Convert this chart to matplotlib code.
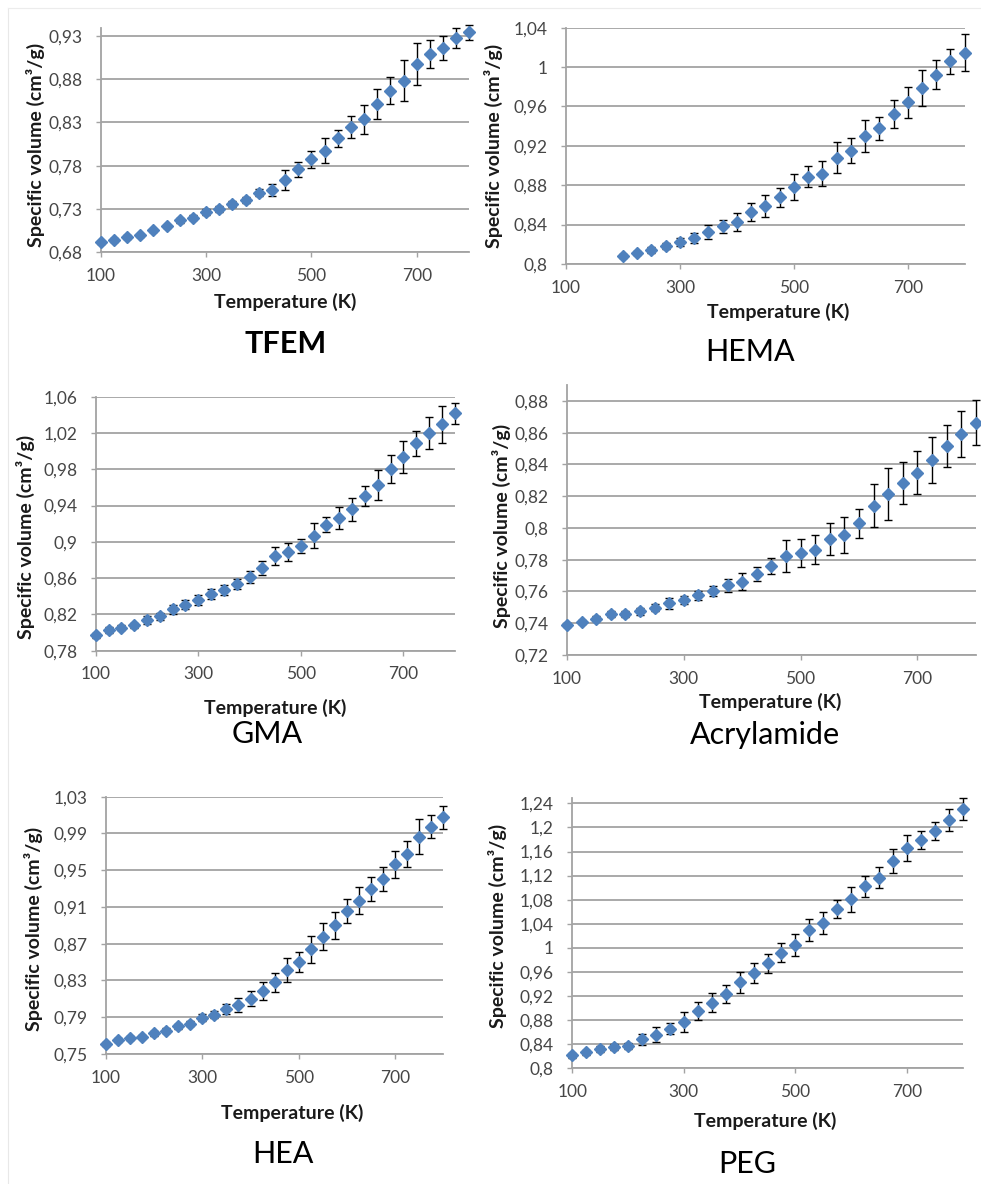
import matplotlib
matplotlib.use("Agg")
import matplotlib.pyplot as plt
from matplotlib.ticker import FuncFormatter, FixedLocator
from matplotlib.lines import Line2D

plt.rcParams['font.family'] = ['Lato', 'DejaVu Sans']

# ---------------- data ----------------
T_full = [100, 125, 150, 175, 200, 225, 250, 275, 300, 325, 350, 375, 400, 425,
          450, 475, 500, 525, 550, 575, 600, 625, 650, 675, 700, 725, 750, 775, 800]
T_hema = [200, 225, 250, 275, 300, 325, 350, 375, 400, 425, 450, 475, 500, 525,
          550, 575, 600, 625, 650, 675, 700, 725, 750, 775, 800]

tfem_v = [0.6915, 0.6942, 0.6977, 0.6996, 0.7054, 0.7100, 0.7169, 0.7200, 0.7265, 0.7300,
          0.7358, 0.7404, 0.7489, 0.7519, 0.7635, 0.7758, 0.7873, 0.7973, 0.8115, 0.8246,
          0.8335, 0.8515, 0.8665, 0.8780, 0.8969, 0.9088, 0.9154, 0.9269, 0.9338]
tfem_e = [0.002, 0.002, 0.002, 0.002, 0.002, 0.002, 0.003, 0.003, 0.003, 0.003, 0.003, 0.003,
          0.004, 0.0073, 0.012, 0.0088, 0.0098, 0.0144, 0.010, 0.0125, 0.0165, 0.0173,
          0.0158, 0.0235, 0.0244, 0.0165, 0.0137, 0.0117, 0.0085]

hema_v = [0.8085, 0.8112, 0.8146, 0.8186, 0.8220, 0.8267, 0.8322, 0.8383, 0.8427, 0.8531,
          0.8589, 0.8677, 0.8782, 0.8887, 0.8917, 0.9080, 0.9151, 0.9300, 0.9378, 0.9523,
          0.9642, 0.9787, 0.9923, 1.0058, 1.0146]
hema_e = [0.002, 0.002, 0.003, 0.003, 0.004, 0.005, 0.007, 0.0065, 0.0095, 0.009, 0.011,
          0.0095, 0.0135, 0.011, 0.0127, 0.016, 0.0127, 0.0164, 0.012, 0.0144, 0.016,
          0.018, 0.015, 0.0125, 0.019]

gma_v = [0.7969, 0.8028, 0.8054, 0.8079, 0.8138, 0.8179, 0.8256, 0.8307, 0.8359, 0.8425,
         0.8469, 0.8535, 0.8612, 0.8711, 0.8844, 0.8891, 0.8954, 0.9068, 0.9189, 0.9266,
         0.9358, 0.9505, 0.9626, 0.9807, 0.9932, 1.0086, 1.0196, 1.0295, 1.0417]
gma_e = [0.003, 0.003, 0.003, 0.003, 0.004, 0.004, 0.005, 0.005, 0.005, 0.005, 0.005, 0.005,
         0.0066, 0.008, 0.0099, 0.0099, 0.008, 0.0138, 0.0083, 0.012, 0.0129, 0.011,
         0.0165, 0.0154, 0.0175, 0.014, 0.0176, 0.0202, 0.0114]

acr_v = [0.7389, 0.7408, 0.7429, 0.7457, 0.7457, 0.7474, 0.7499, 0.7526, 0.7547, 0.7575,
         0.7602, 0.7638, 0.7661, 0.7712, 0.7760, 0.7825, 0.7844, 0.7863, 0.7928, 0.7956,
         0.8029, 0.8139, 0.8213, 0.8284, 0.8349, 0.8427, 0.8516, 0.8591, 0.8663]
acr_e = [0.0015, 0.0015, 0.0015, 0.002, 0.002, 0.002, 0.0025, 0.0034, 0.0025, 0.003, 0.003,
         0.004, 0.0053, 0.0045, 0.0053, 0.010, 0.0087, 0.0093, 0.010, 0.0115, 0.009,
         0.0135, 0.0165, 0.0133, 0.0135, 0.0147, 0.0135, 0.0144, 0.0141]

hea_v = [0.7609, 0.7649, 0.7674, 0.7689, 0.7725, 0.7754, 0.7801, 0.7830, 0.7895, 0.7928,
         0.7990, 0.8033, 0.8102, 0.8186, 0.8280, 0.8414, 0.8505, 0.8639, 0.8777, 0.8900,
         0.9052, 0.9168, 0.9295, 0.9408, 0.9564, 0.9680, 0.9865, 0.9974, 1.0075]
hea_e = [0.002, 0.002, 0.002, 0.002, 0.003, 0.003, 0.003, 0.003, 0.004, 0.004, 0.0058,
         0.0078, 0.0085, 0.0098, 0.0103, 0.0127, 0.0109, 0.0145, 0.015, 0.0145, 0.013,
         0.0145, 0.0134, 0.013, 0.015, 0.0143, 0.0192, 0.0127, 0.0129]

peg_v = [0.8210, 0.8260, 0.8310, 0.8354, 0.8371, 0.8476, 0.8554, 0.8653, 0.8764, 0.8947,
         0.9085, 0.9229, 0.9423, 0.9572, 0.9738, 0.9915, 1.0048, 1.0292, 1.0413, 1.0646,
         1.0806, 1.1022, 1.1166, 1.1437, 1.1653, 1.1792, 1.1941, 1.2129, 1.2301]
peg_e = [0.004, 0.004, 0.005, 0.005, 0.005, 0.0091, 0.0127, 0.0089, 0.0166, 0.0144,
         0.0155, 0.0149, 0.0177, 0.0166, 0.0155, 0.016, 0.0183, 0.0183, 0.0177, 0.0155,
         0.0205, 0.0172, 0.0177, 0.0199, 0.0216, 0.0144, 0.0144, 0.0183, 0.0183]

x_ticks = [100, 300, 500, 700]
tfem_ticks = [0.68, 0.73, 0.78, 0.83, 0.88, 0.93]
hema_ticks = [0.80, 0.84, 0.88, 0.92, 0.96, 1.00, 1.04]
gma_ticks = [0.78, 0.82, 0.86, 0.90, 0.94, 0.98, 1.02, 1.06]
acr_ticks = [0.72, 0.74, 0.76, 0.78, 0.80, 0.82, 0.84, 0.86, 0.88]
hea_ticks = [0.75, 0.79, 0.83, 0.87, 0.91, 0.95, 0.99, 1.03]
peg_ticks = [0.80, 0.84, 0.88, 0.92, 0.96, 1.00, 1.04, 1.08, 1.12, 1.16, 1.20, 1.24]

titles = ["TFEM", "HEMA", "GMA", "Acrylamide", "HEA", "PEG"]
x_label = "Temperature (K)"
y_label = "Specific volume (cm³/g)"

# ---------------- layout (pixels) ----------------
W, H = 981, 1184
fig = plt.figure(figsize=(W / 100, H / 100), dpi=100)
fig.patch.set_facecolor("white")

def px_rect(x0, x1, ytop, ybot):
    return [x0 / W, 1 - ybot / H, (x1 - x0) / W, (ybot - ytop) / H]

GRID = "#a3a3a3"
BLUE = "#4f81bd"
TICKC = "#464646"

def comma_fmt(v, pos):
    s = "{:.2f}".format(v).rstrip("0").rstrip(".")
    return s.replace(".", ",")

panels = [
    # T, values, errors, yticks, ylim, rect, ylabel_pos, xlabel_pos, title_pos, bold title
    (T_full, tfem_v, tfem_e, tfem_ticks, (0.68, 0.9385), (100.7, 469.4, 28.3, 252.3),
     (35, 145), (285, 302), (286, 344), True),
    (T_hema, hema_v, hema_e, hema_ticks, (0.80, 1.04), (566, 964.7, 27.7, 264),
     (493, 146), (778, 312), (750, 352), False),
    (T_full, gma_v, gma_e, gma_ticks, (0.78, 1.06), (95.7, 454.6, 396.7, 650.7),
     (25, 537), (275, 708), (267, 734), False),
    (T_full, acr_v, acr_e, acr_ticks, (0.72, 0.89), (567, 975.7, 385, 655),
     (501, 526), (770, 702), (765, 735), False),
    (T_full, hea_v, hea_e, hea_ticks, (0.75, 1.03), (106, 443.2, 796.7, 1054),
     (33, 929), (292, 1113), (283, 1154), False),
    (T_full, peg_v, peg_e, peg_ticks, (0.80, 1.2485), (572.3, 962.8, 798.3, 1068),
     (497, 926), (765, 1121), (747, 1164), False),
]

for i, (T, v, e, yt, ylim, rect, ylp, xlp, tp, bold) in enumerate(panels):
    ax = fig.add_axes(px_rect(*rect))
    ax.set_xlim(100, 800)
    ax.set_ylim(*ylim)
    ax.errorbar(T, v, yerr=e, fmt="none", ecolor="black", elinewidth=1.0,
                capsize=3.2, capthick=1.0, zorder=3, clip_on=False)
    ax.plot(T, v, linestyle="none", marker="D", markersize=6.5, color=BLUE,
            markeredgecolor=BLUE, zorder=4, clip_on=False)
    ax.xaxis.set_major_locator(FixedLocator(x_ticks))
    ax.yaxis.set_major_locator(FixedLocator(yt))
    ax.yaxis.set_major_formatter(FuncFormatter(comma_fmt))
    ax.grid(axis="y", color=GRID, linewidth=1.3)
    ax.set_axisbelow(True)
    for s in ("top", "right"):
        ax.spines[s].set_visible(False)
    for s in ("left", "bottom"):
        ax.spines[s].set_color(GRID)
        ax.spines[s].set_linewidth(1.3)
    ax.tick_params(axis="both", direction="out", length=3.8, width=1.0, color=GRID,
                   labelsize=12.5, labelcolor=TICKC)
    ax.tick_params(axis="y", pad=9.5)
    ax.tick_params(axis="x", pad=7.5)
    ax.set_facecolor("none")

    fig.text(ylp[0] / W, 1 - ylp[1] / H, y_label, rotation=90, ha="center", va="center",
             fontsize=14, fontweight="bold", color="#1a1a1a")
    fig.text(xlp[0] / W, 1 - xlp[1] / H, x_label, ha="center", va="center",
             fontsize=14, fontweight="bold", color="#1a1a1a")
    fig.text(tp[0] / W, 1 - tp[1] / H, titles[i], ha="center", va="center",
             fontsize=22, fontweight="bold" if bold else "normal", color="black")

# faint chart-area borders
fig.add_artist(Line2D([8 / W, 8 / W], [1 - 8 / H, 0], color="#e8e8e8", linewidth=0.8))
fig.add_artist(Line2D([8 / W, 1], [1 - 8 / H, 1 - 8 / H], color="#ececec", linewidth=0.8))

fig.savefig("out.png", dpi=100, facecolor="white")
